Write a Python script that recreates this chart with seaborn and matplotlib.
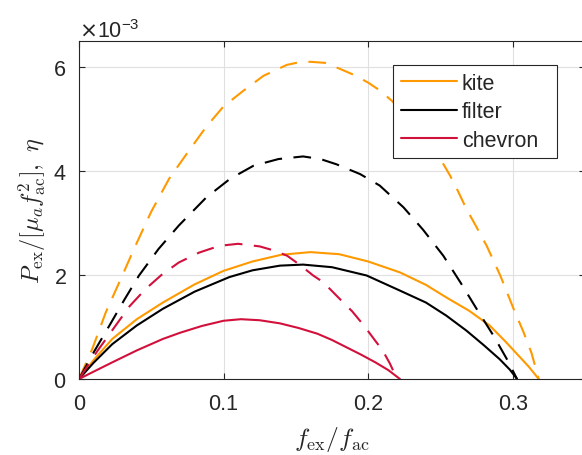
import numpy as np
import pandas as pd
import seaborn as sns
import matplotlib.pyplot as plt
from matplotlib.lines import Line2D
from matplotlib.ticker import ScalarFormatter

# Dados (y em unidades de 1e-3) ---------------------------------------------

designs = ["kite", "filter", "chevron"]
cores = {"kite": "#ff9900", "filter": "#000000", "chevron": "#d2103c"}

# potencia extraida (linhas cheias)
kite_p_x = [0, 0.01, 0.023, 0.04, 0.058, 0.08, 0.10, 0.12, 0.14, 0.16, 0.18, 0.20, 0.222,
            0.24, 0.254, 0.27, 0.284, 0.295, 0.303, 0.311, 0.318]
kite_p_y = [0, 0.36, 0.77, 1.15, 1.47, 1.82, 2.08, 2.26, 2.39, 2.44, 2.40, 2.26, 2.05,
            1.81, 1.57, 1.31, 1.03, 0.72, 0.48, 0.24, 0]

filter_p_x = [0, 0.01, 0.023, 0.04, 0.058, 0.08, 0.104, 0.12, 0.139, 0.155, 0.175, 0.199,
              0.222, 0.24, 0.254, 0.268, 0.28, 0.291, 0.298, 0.303]
filter_p_y = [0, 0.31, 0.67, 1.03, 1.35, 1.68, 1.96, 2.09, 2.18, 2.20, 2.15, 1.99,
              1.70, 1.47, 1.22, 0.93, 0.65, 0.38, 0.18, 0]

chevron_p_x = [0, 0.01, 0.023, 0.04, 0.058, 0.07, 0.085, 0.10, 0.112, 0.125, 0.139, 0.152,
               0.165, 0.175, 0.185, 0.195, 0.205, 0.214, 0.222]
chevron_p_y = [0, 0.14, 0.32, 0.55, 0.77, 0.89, 1.02, 1.12, 1.15, 1.13, 1.07, 0.98,
               0.87, 0.75, 0.61, 0.47, 0.32, 0.17, 0]

# eficiencia (linhas tracejadas)
kite_eta_x = [0, 0.0092, 0.0185, 0.029, 0.039, 0.05, 0.0623, 0.075, 0.088, 0.0999, 0.114,
              0.1276, 0.1437, 0.152, 0.160, 0.170, 0.18, 0.19, 0.20, 0.208, 0.2164, 0.225,
              0.235, 0.243, 0.250, 0.2567, 0.262, 0.268, 0.275, 0.282, 0.2914, 0.3006,
              0.3075, 0.313, 0.318]
kite_eta_y = [0, 0.58, 1.28, 1.93, 2.56, 3.22, 3.85, 4.35, 4.85, 5.24, 5.55,
              5.83, 6.04, 6.09, 6.10, 6.08, 5.97, 5.85, 5.70, 5.55, 5.35, 5.10,
              4.80, 4.50, 4.23, 3.91, 3.62, 3.27, 2.92, 2.56, 1.99, 1.35,
              0.90, 0.50, 0]

filter_eta_x = [0, 0.0105, 0.0215, 0.0315, 0.0415, 0.055, 0.069, 0.088, 0.1045, 0.1206,
                0.138, 0.155, 0.167, 0.178, 0.1945, 0.208, 0.2245, 0.238, 0.252, 0.264,
                0.275, 0.287, 0.296, 0.303]
filter_eta_y = [0, 0.53, 1.05, 1.53, 1.99, 2.50, 2.95, 3.49, 3.85, 4.10,
                4.23, 4.28, 4.23, 4.13, 3.94, 3.72, 3.30, 2.87, 2.37, 1.85,
                1.35, 0.82, 0.38, 0]

chevron_eta_x = [0, 0.0125, 0.0254, 0.035, 0.046, 0.057, 0.069, 0.083, 0.097, 0.110, 0.125,
                 0.135, 0.144, 0.153, 0.162, 0.169, 0.180, 0.189, 0.197, 0.204, 0.210,
                 0.215, 0.220]
chevron_eta_y = [0, 0.53, 1.03, 1.40, 1.73, 2.00, 2.24, 2.43, 2.56, 2.60, 2.55,
                 2.47, 2.37, 2.19, 1.99, 1.86, 1.55, 1.30, 1.03, 0.77, 0.55,
                 0.30, 0]

series = [
    ("kite", "P", kite_p_x, kite_p_y), ("filter", "P", filter_p_x, filter_p_y),
    ("chevron", "P", chevron_p_x, chevron_p_y),
    ("kite", "eta", kite_eta_x, kite_eta_y), ("filter", "eta", filter_eta_x, filter_eta_y),
    ("chevron", "eta", chevron_eta_x, chevron_eta_y),
]

dados = pd.concat([
    pd.DataFrame({"x": xs, "y": np.array(ys) * 1e-3, "design": d, "tipo": t})
    for d, t, xs, ys in series
], ignore_index=True)

# Figura --------------------------------------------------------------------

sns.set_theme(style="ticks")
plt.rcParams["font.family"] = ["Liberation Sans", "DejaVu Sans"]
plt.rcParams["mathtext.fontset"] = "cm"

fig = plt.figure(figsize=(5.82, 4.56), dpi=100)
ax = fig.add_axes([79 / 582, 76 / 456, 506 / 582, 338 / 456])

sns.lineplot(data=dados, x="x", y="y", hue="design", style="tipo",
             hue_order=designs, palette=cores, style_order=["P", "eta"],
             dashes={"P": "", "eta": (8.5, 5.5)}, estimator=None, sort=False,
             linewidth=1.5, legend=False, ax=ax)

ax.set_xlim(0, 0.35)
ax.set_ylim(0, 6.5e-3)
ax.set_xticks([0, 0.1, 0.2, 0.3])
ax.set_xticklabels(["0", "0.1", "0.2", "0.3"])
ax.set_yticks([0, 2e-3, 4e-3, 6e-3])

fmt = ScalarFormatter(useMathText=True)
fmt.set_powerlimits((-2, 3))
ax.yaxis.set_major_formatter(fmt)

cinza = "#262626"
ax.tick_params(direction="in", top=True, right=True, length=4, width=0.8,
               labelsize=15.5, colors=cinza)
ax.tick_params(axis="x", pad=10)
ax.tick_params(axis="y", pad=9)
for s in ax.spines.values():
    s.set_color(cinza)
    s.set_linewidth(0.8)
ax.grid(True, color="#e0e0e0", linewidth=0.8)
ax.set_axisbelow(True)

off = ax.yaxis.get_offset_text()
off.set_fontsize(15.5)
off.set_color(cinza)
off.set_math_fontfamily("dejavusans")

ax.set_xlabel(r"$f_{\rm ex}/f_{\rm ac}$", fontsize=18.5, color=cinza, labelpad=7)
ax.set_ylabel(r"$P_{\rm ex}/[\mu_a f_{\rm ac}^2],\ \eta$", fontsize=17.5, color=cinza, labelpad=4)

# legenda so com as linhas cheias, caixa igual a da figura original
handles = [Line2D([], [], color=cores[d], lw=1.5) for d in designs]
leg = ax.legend(handles, designs, loc="upper left",
                bbox_to_anchor=(0.6206, 0.655, 164 / 506, 0.274), mode="expand",
                borderaxespad=0, fontsize=15.5, handlelength=2.6, handletextpad=0.25,
                labelspacing=0.35, borderpad=0.35, fancybox=False, framealpha=1,
                edgecolor=cinza)
leg.get_frame().set_linewidth(0.8)

fig.savefig("out.png", dpi=100)
